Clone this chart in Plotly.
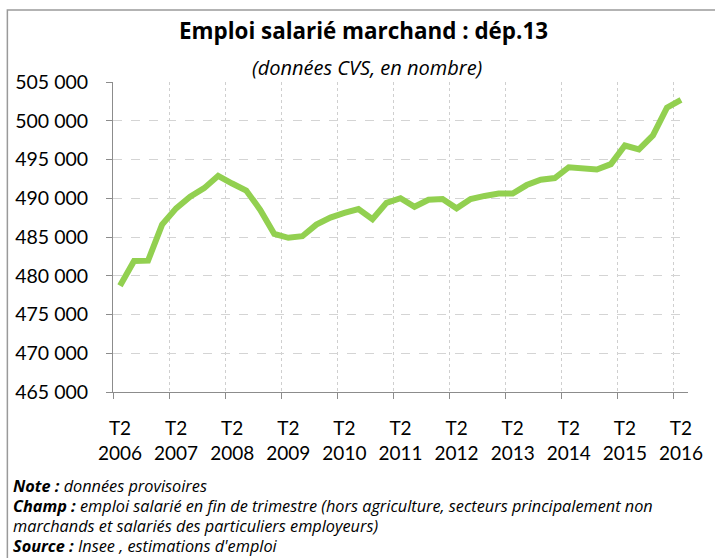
import plotly.graph_objects as go

# ---- data ----
years = list(range(2006, 2017))

emploi = [478700, 481900, 481950, 486600, 488700, 490200, 491300, 492900,
          491900, 491000, 488500, 485400, 484900, 485100, 486600, 487500,
          488100, 488600, 487300, 489400, 490000, 488900, 489800, 489900,
          488700, 489900, 490300, 490600, 490600, 491700, 492400, 492600,
          494000, 493800, 493700, 494400, 496800, 496300, 498100, 501700,
          502700]

tick_labels = [f"T2<br>{y}" for y in years]
tick_positions = [4 * i for i in range(len(years))]

title_text = "Emploi salarié marchand : dép.13"
subtitle_text = "(données CVS, en nombre)"
notes = [
    "<b>Note :</b> données provisoires",
    "<b>Champ :</b> emploi salarié en fin de trimestre (hors agriculture, secteurs principalement non",
    "marchands et salariés des particuliers employeurs)",
    "<b>Source :</b> Insee , estimations d'emploi",
]

# ---- layout geometry (pixels) ----
W, H = 715, 558
L, R, T, B = 113, 690, 82, 392


def px(xp):
    return (xp - L) / (R - L)


def py(yp):
    return (B - yp) / (B - T)


FONT = "Lato"
TFONT = "Open Sans"

fig = go.Figure()
fig.add_trace(go.Scatter(
    x=list(range(len(emploi))), y=emploi, mode="lines",
    line=dict(color="#92D050", width=6), hoverinfo="y", showlegend=False,
))

annotations = [
    dict(text=f"<b>{title_text}</b>", x=px(364), y=py(30), xref="paper", yref="paper",
         showarrow=False, font=dict(size=22.4, color="black", family=TFONT), xanchor="center", yanchor="middle"),
    dict(text=f"<i>{subtitle_text}</i>", x=px(368), y=py(67), xref="paper", yref="paper",
         showarrow=False, font=dict(size=20, color="black", family=TFONT), xanchor="center", yanchor="middle"),
]
note_y = [486, 506, 526, 546]
for t, yy in zip(notes, note_y):
    annotations.append(dict(text=f"<i>{t}</i>", x=px(11), y=py(yy), xref="paper", yref="paper",
                            showarrow=False, font=dict(size=16.3, color="black", family=TFONT),
                            xanchor="left", yanchor="middle", align="left"))

fig.update_layout(
    width=W, height=H,
    margin=dict(l=L, r=W - R, t=T, b=H - B, pad=0),
    paper_bgcolor="white", plot_bgcolor="white",
    separators=", ",
    font=dict(family=FONT, color="black"),
    annotations=annotations,
    shapes=[dict(type="rect", xref="paper", yref="paper",
                 x0=px(7), x1=px(730), y0=py(10), y1=py(600),
                 line=dict(color="#9a9a9a", width=1.5), layer="below")],
    xaxis=dict(
        range=[-0.5, 40.5], tickmode="array", tickvals=tick_positions, ticktext=tick_labels,
        ticks="", showgrid=False, zeroline=False,
        showline=True, linecolor="#8c8c8c", linewidth=1,
        tickfont=dict(size=19, color="black", family=FONT), ticklabelstandoff=19,
        minor=dict(tick0=3.5, dtick=4, ticks="outside", ticklen=6, tickcolor="#8c8c8c",
                   showgrid=True, gridcolor="#cfcfcf", griddash="dot", gridwidth=1),
    ),
    yaxis=dict(
        range=[465000, 505000], dtick=5000, tickformat=",d",
        showgrid=True, gridcolor="#d4d4d4", griddash="dash", gridwidth=1,
        zeroline=False, showline=True, linecolor="#8c8c8c", linewidth=1,
        ticks="outside", ticklen=6, tickcolor="#8c8c8c",
        tickfont=dict(size=19.5, color="black", family=FONT), ticklabelstandoff=14,
    ),
)

fig.write_html("out.html", config={"displayModeBar": False},
               post_script="document.body.style.margin='0';")
